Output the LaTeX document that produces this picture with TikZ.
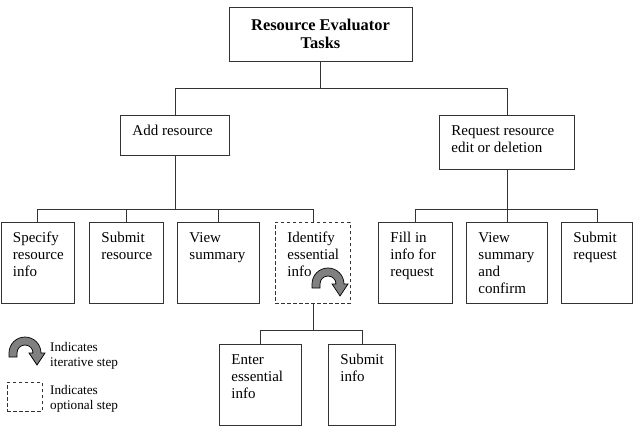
\documentclass[tikz,border=0pt]{standalone}
\usepackage{fontspec}
\setmainfont{Liberation Serif}
\usetikzlibrary{positioning}
\tikzstyle{task}=[draw=black!80, line width=0.9pt, anchor=north west, inner sep=0pt, font=\fontsize{15}{17}\selectfont]
\tikzstyle{optask}=[task, dash pattern=on 3.5pt off 2.5pt]
\tikzstyle{wire}=[draw=black!80, line width=0.9pt]
\tikzstyle{note}=[anchor=north west, inner sep=0pt, align=left, font=\fontsize{13.2}{15.5}\selectfont]
\newcommand{\tasktext}[3]{\begin{minipage}[t][#2][t]{#1}\raggedright\leftskip=12pt\rule{0pt}{20pt}#3\end{minipage}}
\tikzset{loopsign/.pic={
  \filldraw[fill=black!50, draw=black, line width=0.7pt] (-16,4) -- (-16,0) arc[start angle=180, end angle=360, radius=16]
    -- (20,0) -- (12,12) -- (4,0) -- (8,0) arc[start angle=0, end angle=-180, radius=8] -- (-8,4) -- cycle;
}}

\begin{document}
\begin{tikzpicture}[x=1pt, y=-1pt]
\useasboundingbox (0,0) rectangle (636,435);

%Root
\node[draw=black!80, line width=0.9pt, minimum width=183pt, minimum height=54pt, align=center,
      font=\fontsize{16.4}{18.5}\selectfont\bfseries] (top) at (320.5,34) {Resource Evaluator\\Tasks};

%Tasks
    \foreach \x/\y/\w/\h/\name/\label in {{120/115/109/40/add/Add resource}, {439/115/135/54/req/{Request resource\\edit or deletion}},
        {0.5/222/73/81/spec/{Specify\\resource\\info}}, {89/222/74/81/subres/{Submit\\resource}}, {177/222/82/81/view/{View\\summary}},
        {378/222/74/81/fillin/{Fill in\\info for\\request}}, {466/222/81/81/viewsum/{View\\summary\\and\\confirm}}, {561/222/71/81/subreq/{Submit\\request}},
        {219/344/82/81/enter/{Enter\\essential\\info}}, {328/344/67/81/subinfo/{Submit\\info}}}
        \node[task] (\name) at (\x,\y) {\tasktext{\w pt}{\h pt}{\label}};
\node[optask] (ident) at (275,222) {\tasktext{75pt}{81pt}{Identify\\essential\\info}};
\pic at (328,284) {loopsign};

%Connectors
\coordinate (bus0) at (0,88);
\coordinate (bus1) at (0,209);
\coordinate (bus2) at (0,330);
  \foreach \kid in {add,req}
          \draw[wire] (top.south) -- (top.south |- bus0) -| (\kid.north);
  \foreach \kid in {spec,subres,view,ident}
          \draw[wire] (add.south) -- (add.south |- bus1) -| (\kid.north);
  \foreach \kid in {fillin,viewsum,subreq}
          \draw[wire] (req.south) -- (req.south |- bus1) -| (\kid.north);
  \foreach \kid in {enter,subinfo}
          \draw[wire] (ident.south) -- (ident.south |- bus2) -| (\kid.north);

%Legend
\pic at (25,353) {loopsign};
\node[note] (iternote) at (50,342) {Indicates\\iterative step};
\node[optask, minimum width=35pt, minimum height=29pt] (optkey) at (7,382) {};
\node[note] (optnote) at (50,385) {Indicates\\optional step};

\end{tikzpicture}
\end{document}
